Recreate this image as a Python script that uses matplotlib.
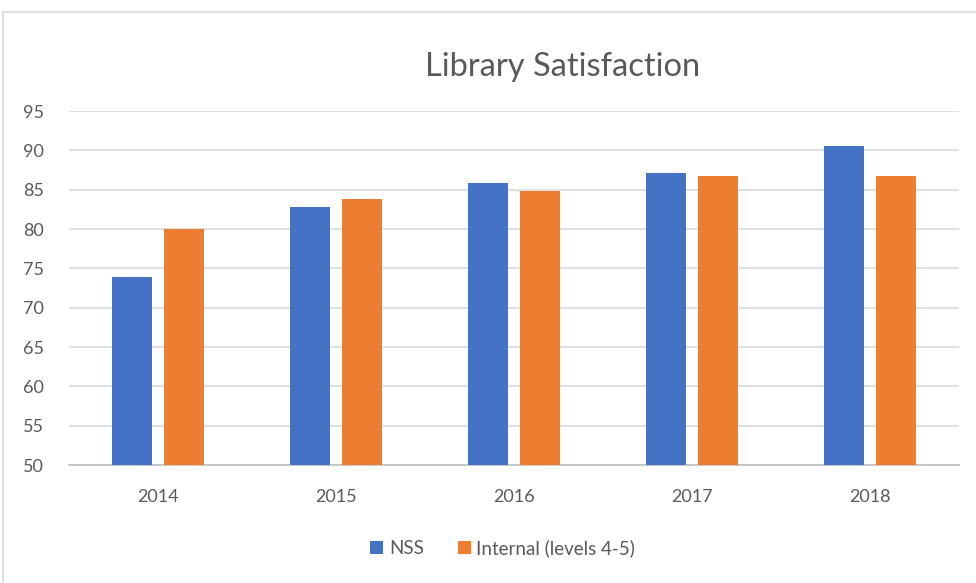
import numpy as np
import matplotlib.pyplot as plt
from matplotlib.patches import Rectangle

plt.rcParams['font.family'] = ['Lato', 'DejaVu Sans']

# Data
years = ["2014", "2015", "2016", "2017", "2018"]
nss = [73.9, 82.8, 85.8, 87.1, 90.5]
internal = [80.0, 83.8, 84.8, 86.8, 86.8]

blue = "#4472C4"
orange = "#ED7D31"
grey_text = "#595959"
grid_col = "#D9D9D9"

fig = plt.figure(figsize=(9.76, 5.83), dpi=100)
ax = fig.add_axes([0.0707, 0.2024, 0.9119, 0.6072])

x = np.arange(len(years))
w = 0.225
gap = 0.062
ax.bar(x - (w + gap) / 2, nss, width=w, color=blue, label="NSS", zorder=3)
ax.bar(x + (w + gap) / 2, internal, width=w, color=orange,
       label="Internal (levels 4-5)", zorder=3)

ax.set_ylim(50, 95)
ax.set_xlim(-0.5, len(years) - 0.5)
ax.set_yticks(range(50, 96, 5))
ax.set_xticks(x)
ax.set_xticklabels(years)
ax.yaxis.grid(True, color=grid_col, linewidth=1.2, zorder=0)
ax.tick_params(axis="both", length=0, labelsize=13, colors=grey_text)
ax.tick_params(axis="x", pad=17)
ax.tick_params(axis="y", pad=18)
for s in ["top", "right", "left"]:
    ax.spines[s].set_visible(False)
ax.spines["bottom"].set_color("#BFBFBF")
ax.spines["bottom"].set_linewidth(1.2)

fig.text(0.576, 0.885, "Library Satisfaction", ha="center", va="center",
         fontsize=23.5, color=grey_text)

fig.legend(loc="center", bbox_to_anchor=(0.515, 0.06), ncol=2, frameon=False,
           fontsize=13.5, labelcolor=grey_text, handlelength=0.7, handleheight=0.7,
           handletextpad=0.3, columnspacing=1.8)

# outer chart border
fig.patches.append(Rectangle((0.003, -0.01), 1.02, 0.99, transform=fig.transFigure,
                             fill=False, edgecolor="#D9D9D9", linewidth=1.2))

plt.savefig("out.png", dpi=100)
